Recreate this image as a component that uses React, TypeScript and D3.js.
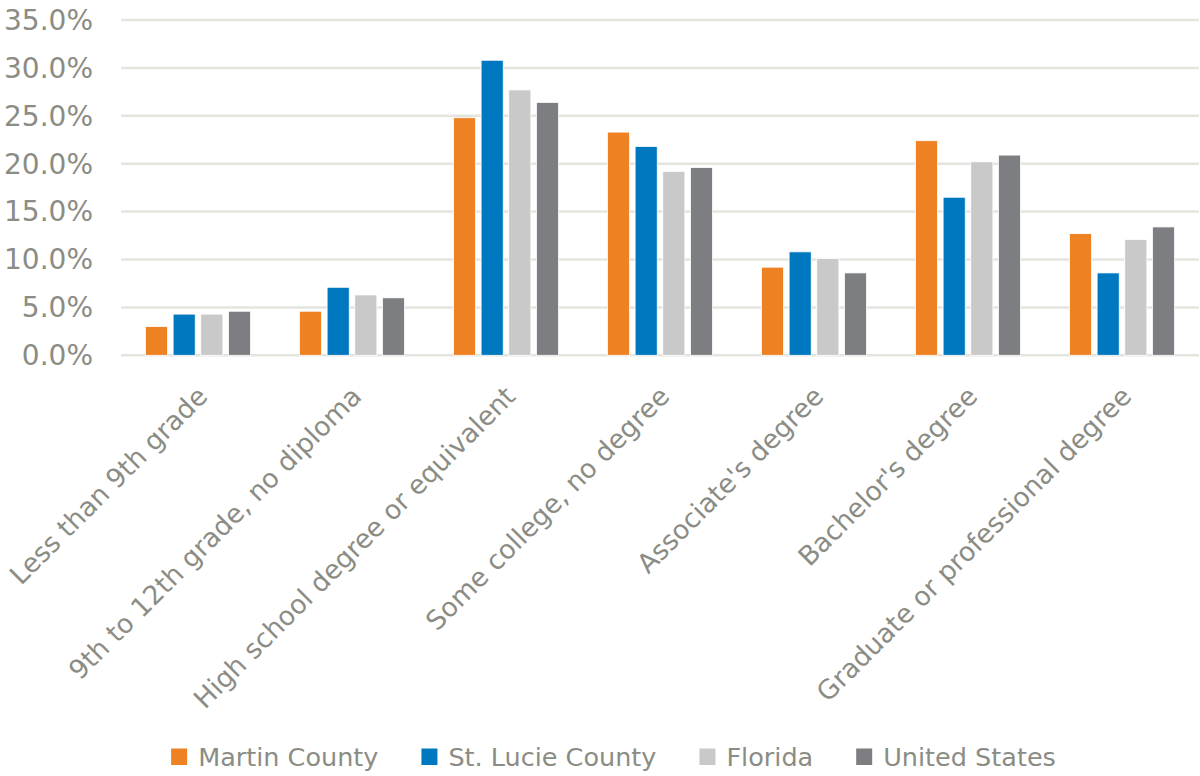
import React from "react";
import * as d3 from "d3";

const categories = [
  "Less than 9th grade",
  "9th to 12th grade, no diploma",
  "High school degree or equivalent",
  "Some college, no degree",
  "Associate's degree",
  "Bachelor's degree",
  "Graduate or professional degree",
];
const seriesNames = ["Martin County", "St. Lucie County", "Florida", "United States"];
const seriesColors = ["#EE8223", "#0078BF", "#C8C9C8", "#7D7E82"];
const martin = [3.0, 4.6, 24.8, 23.3, 9.2, 22.4, 12.7];
const stLucie = [4.3, 7.1, 30.8, 21.8, 10.8, 16.5, 8.6];
const florida = [4.3, 6.3, 27.7, 19.2, 10.1, 20.2, 12.1];
const unitedStates = [4.6, 6.0, 26.4, 19.6, 8.6, 20.9, 13.4];
const yTicks = [0, 5, 10, 15, 20, 25, 30, 35];

const W = 1200;
const H = 776;
const FONT = '"DejaVu Sans", sans-serif';
const TEXT = "#8B8C84";

function measure(text: string, size: number) {
  const c = document.createElement("canvas").getContext("2d");
  if (!c) return text.length * size * 0.6;
  c.font = `${size}px "DejaVu Sans"`;
  return c.measureText(text).width;
}

export default function App() {
  const values = [martin, stLucie, florida, unitedStates];
  const p = 0.3175;
  const x0 = d3.scaleBand<string>().domain(categories).range([121, 1199]).paddingInner(p).paddingOuter(p / 2);
  const x1 = d3.scaleBand<string>().domain(seriesNames).range([0, x0.bandwidth()]).paddingInner(0.2).paddingOuter(0);
  const y = d3.scaleLinear().domain([0, 35]).range([355.3, 20]);
  const fmt = (v: number) => v.toFixed(1) + "%";

  // legend layout
  const legSize = 25.5;
  const sw = 16;
  const gapText = 11;
  const gapItem = 43;
  const widths = seriesNames.map((s) => measure(s, legSize));
  const total = widths.reduce((a, w) => a + sw + gapText + w, 0) + gapItem * (seriesNames.length - 1);
  const legStart = 613.5 - total / 2;
  const legX: number[] = [];
  let cur = legStart;
  widths.forEach((w) => {
    legX.push(cur);
    cur += sw + gapText + w + gapItem;
  });

  return (
    <svg width={W} height={H} style={{ position: "absolute", left: 0, top: 0, background: "#fff" }} fontFamily={FONT}>
      {yTicks.map((t) => (
        <g key={t}>
          <line x1={121} x2={1199} y1={y(t)} y2={y(t)} stroke="#E5E5E0" strokeWidth={2.5} />
          <text x={93} y={y(t) + 9.8} textAnchor="end" fontSize={28} fill={TEXT}>
            {fmt(t)}
          </text>
        </g>
      ))}
      {categories.map((c, ci) => (
        <g key={c} transform={`translate(${x0(c)},0)`}>
          {seriesNames.map((s, si) => (
            <rect
              key={s}
              x={x1(s)}
              y={y(values[si][ci])}
              width={x1.bandwidth()}
              height={y(0) - y(values[si][ci])}
              fill={seriesColors[si]}
              stroke="#ffffff"
              strokeWidth={0.8}
            />
          ))}
        </g>
      ))}
      {categories.map((c) => {
        const cx = (x0(c) as number) + x0.bandwidth() / 2;
        return (
          <text
            key={c}
            transform={`translate(${cx + 11},${398}) rotate(-45)`}
            textAnchor="end"
            fontSize={26.6}
            fill={TEXT}
          >
            {c}
          </text>
        );
      })}
      {seriesNames.map((s, i) => (
        <g key={s}>
          <rect x={legX[i]} y={748.5} width={sw} height={16.5} fill={seriesColors[i]} />
          <text x={legX[i] + sw + gapText} y={766} fontSize={legSize} fill={TEXT}>
            {s}
          </text>
        </g>
      ))}
    </svg>
  );
}
